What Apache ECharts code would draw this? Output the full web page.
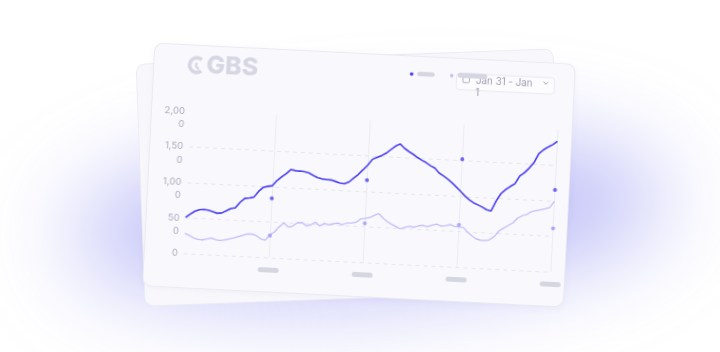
<!DOCTYPE html>
<html><head><meta charset="utf-8">
<script src="https://cdn.jsdelivr.net/npm/echarts@6/dist/echarts.min.js"></script>
<style>
html,body{margin:0;padding:0;width:720px;height:352px;overflow:hidden;background:#ffffff;}
#glow{position:absolute;left:68px;top:135px;width:600px;height:165px;border-radius:50%;background:rgba(125,125,240,0.48);filter:blur(46px);transform:rotate(-4deg);}
#back{position:absolute;left:141px;top:56.5px;width:416px;height:241px;border-radius:8px;background:#f8f8fc;box-shadow:0 0 0 1px #ececf4;transform:rotate(-2.1deg);}
#card{position:absolute;left:149px;top:54px;width:420px;height:242px;border-radius:8px;background:#f9f9fd;box-shadow:0 0 0 1px #eaeaf2,0 2px 8px rgba(90,90,170,0.06);transform:rotate(2.9deg);overflow:hidden;}
#chart{position:absolute;left:0;top:0;width:420px;height:242px;}
</style></head>
<body>
<div id="glow"></div>
<div id="back"></div>
<div id="card"><div id="chart"></div></div>
<script>
// values
const darkValues = [
  505, 553, 596, 622, 629, 620, 603, 584, 591, 624,
  660, 673, 754, 812, 821, 837, 920, 980, 998, 1009,
  1087, 1141, 1191, 1250, 1237, 1234, 1229, 1213, 1183, 1155,
  1139, 1134, 1132, 1114, 1095, 1087, 1116, 1173, 1227, 1296,
  1366, 1451, 1480, 1510, 1547, 1600, 1652, 1686, 1628, 1586,
  1551, 1508, 1472, 1441, 1402, 1371, 1306, 1268, 1226, 1178,
  1122, 1063, 1001, 953, 913, 886, 858, 825, 810, 952,
  1060, 1122, 1168, 1209, 1320, 1370, 1437, 1518, 1648, 1705,
  1748, 1784, 1834
];
const lightValues = [
  280, 255, 222, 205, 200, 215, 232, 212, 204, 215,
  233, 252, 273, 294, 316, 318, 298, 255, 240, 320,
  365, 440, 495, 441, 459, 510, 514, 469, 488, 530,
  478, 518, 500, 520, 530, 512, 540, 542, 555, 605,
  617, 632, 665, 695, 635, 586, 552, 524, 495, 520,
  538, 529, 551, 560, 547, 570, 587, 565, 570, 591,
  570, 563, 560, 497, 448, 407, 393, 391, 406, 455,
  537, 581, 621, 660, 730, 765, 787, 831, 847, 860,
  879, 901, 990
];
const categories = darkValues.map((_, i) => 'D' + (i + 1));
const xTickIndex = [19, 40, 61, 82];
const darkDots = [833, 1153, 1517, 1152];
const lightDots = [308, 549, 593, 612];
const yTickValues = [0, 500, 1000, 1500, 2000];
const yTickLabels = ['0', '50\n0', '1,00\n0', '1,50\n0', '2,00\n0'];
const dateText = 'Jan 31 - Jan\n1';
const logoText = 'GBS';

const DARK = '#4b3ff2', LIGHT = '#c3bcfb', LIGHTDOT = '#9b92f6', PILL = '#d6d6e0', LOGO = '#d7d7e4';
const YCOL = '#a9a9be';

const chart = echarts.init(document.getElementById('chart'), null, {renderer: 'canvas'});
const isTick = (i) => xTickIndex.indexOf(i) >= 0;
const pill = (x, y, w, h) => ({type: 'rect', shape: {x: x, y: y, width: w, height: h, r: h / 2}, style: {fill: PILL}, z: 30});

chart.setOption({
  animation: false,
  grid: {left: 38.9, right: 12.5, top: 65.5, bottom: 34},
  xAxis: {
    type: 'category', data: categories, boundaryGap: false,
    axisLine: {show: false}, axisTick: {show: false},
    axisLabel: {
      interval: (i) => isTick(i), margin: 10, hideOverlap: false,
      formatter: () => '{p| }',
      rich: {p: {width: 21, height: 5, lineHeight: 5, fontSize: 1, backgroundColor: PILL, borderRadius: 2.5}}
    },
    splitLine: {show: true, interval: (i) => isTick(i), lineStyle: {color: '#ebebf2', width: 1}}
  },
  yAxis: {
    type: 'value', min: 0, max: 2000, interval: 500,
    axisLine: {show: false}, axisTick: {show: false},
    axisLabel: {
      margin: 6, color: YCOL, fontSize: 9.5, fontFamily: 'Inter',
      verticalAlign: 'top', hideOverlap: false,
      formatter: (v) => {
        const k = yTickValues.indexOf(v);
        const s = k >= 0 ? yTickLabels[k] : String(v);
        const parts = s.split('\n');
        // first line sits on the tick, the wrapped part goes below it
        return parts.map((p, j) => (j === 0 ? '{a|' : '{b|') + p + '}').join('\n');
      },
      rich: {
        a: {lineHeight: 1, fontSize: 9.5, fontFamily: 'Inter', color: YCOL},
        b: {lineHeight: 25.6, fontSize: 9.5, fontFamily: 'Inter', color: YCOL}
      }
    },
    splitLine: {show: true, showMaxLine: false, lineStyle: {color: '#e5e5ee', type: [4, 4], width: 1}}
  },
  series: [
    {type: 'line', data: lightValues, showSymbol: false, z: 2, lineStyle: {color: LIGHT, width: 1.3}},
    {type: 'line', data: darkValues, showSymbol: false, z: 3, lineStyle: {color: DARK, width: 1.6}},
    {type: 'scatter', data: darkDots.map((v, k) => [xTickIndex[k], v]), symbolSize: 4, z: 4, itemStyle: {color: DARK}},
    {type: 'scatter', data: lightDots.map((v, k) => [xTickIndex[k], v]), symbolSize: 4, z: 4, itemStyle: {color: LIGHTDOT}}
  ],
  graphic: [
    // logo
    {type: 'arc', shape: {cx: 42.5, cy: 19.5, r: 7.3, startAngle: Math.PI * 0.28, endAngle: Math.PI * 1.72, clockwise: true},
     style: {stroke: LOGO, lineWidth: 3.8, fill: null}, z: 20},
    {type: 'arc', shape: {cx: 45, cy: 19.5, r: 3.3, startAngle: Math.PI * 0.5, endAngle: Math.PI * 1.25, clockwise: true},
     style: {stroke: LOGO, lineWidth: 2.3, fill: null}, z: 20},
    {type: 'text', x: 52, y: 19.8, z: 20,
     style: {text: logoText, fill: LOGO, font: '800 25px Inter', verticalAlign: 'middle', textVerticalAlign: 'middle'}},
    // date picker
    {type: 'rect', shape: {x: 302.7, y: 14.2, width: 98, height: 16.5, r: 3}, style: {fill: '#fcfcfe', stroke: '#e8e8f0', lineWidth: 1}, z: 20},
    {type: 'rect', shape: {x: 309, y: 17.8, width: 6.5, height: 5.5, r: 1}, style: {fill: null, stroke: '#a8a8ba', lineWidth: 0.9}, z: 21},
    {type: 'text', x: 322, y: 15, z: 21,
     style: {text: dateText, fill: '#9c9cb0', font: '9.8px Inter', lineHeight: 12.3, verticalAlign: 'top', textVerticalAlign: 'top'}},
    {type: 'polyline', shape: {points: [[389.6, 18.6], [392, 21], [394.4, 18.6]]}, style: {stroke: '#9c9cb0', lineWidth: 0.9, fill: null}, z: 21},
    // legend
    {type: 'circle', shape: {cx: 257.5, cy: 17.5, r: 1.8}, style: {fill: DARK}, z: 30},
    pill(263, 14.65, 17.7, 4.7),
    {type: 'circle', shape: {cx: 297.6, cy: 17.1, r: 1.8}, style: {fill: LIGHT}, z: 30},
    pill(303.5, 13.7, 29.6, 5)
  ]
});
</script>
</body></html>
